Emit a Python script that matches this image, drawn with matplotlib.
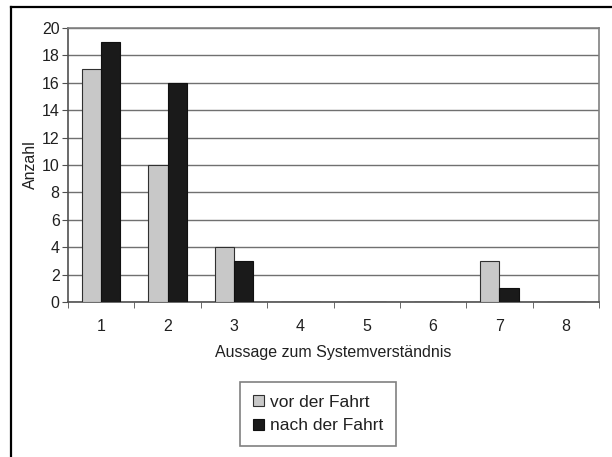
import matplotlib
matplotlib.use("Agg")
import matplotlib.pyplot as plt
import numpy as np
from matplotlib.lines import Line2D

plt.rcParams['font.family'] = ['Liberation Sans', 'DejaVu Sans']

categories = ['1', '2', '3', '4', '5', '6', '7', '8']
vor = [17, 10, 4, 0, 0, 0, 3, 0]
nach = [19, 16, 3, 0, 0, 0, 1, 0]
series_names = ['vor der Fahrt', 'nach der Fahrt']
yticks = [0, 2, 4, 6, 8, 10, 12, 14, 16, 18, 20]

W, H = 612, 457
fig = plt.figure(figsize=(W/100, H/100), dpi=100)
ax = fig.add_axes([68/W, 1-302/H, (599-68)/W, (302-28)/H])

x = np.arange(len(categories))
bw = 0.29
ax.bar(x - bw/2, vor, bw, color='#c8c8c8', edgecolor='#303030', linewidth=0.8, label=series_names[0], zorder=3)
ax.bar(x + bw/2, nach, bw, color='#1a1a1a', edgecolor='#101010', linewidth=0.8, label=series_names[1], zorder=3)

fs = 11.5
ax.set_xlim(-0.5, len(categories)-0.5)
ax.set_ylim(0, 20)
ax.set_yticks(yticks)
ax.set_yticklabels([str(v) for v in yticks], fontsize=fs, color='#202020')
ax.yaxis.grid(True, color='#707070', linewidth=1.0, zorder=0)
ax.set_axisbelow(True)

ax.set_xticks(x)
ax.set_xticklabels(categories, fontsize=fs, color='#202020')
ax.tick_params(axis='x', length=0, pad=12)
ax.set_xticks(np.arange(-0.5, len(categories)), minor=True)
ax.tick_params(axis='x', which='minor', length=4, direction='out', color='#505050')
ax.tick_params(axis='y', length=4, direction='out', color='#505050', pad=2)

for s in ['top', 'right']:
    ax.spines[s].set_color('#808080')
    ax.spines[s].set_linewidth(1.2)
for s in ['left', 'bottom']:
    ax.spines[s].set_color('#505050')
    ax.spines[s].set_linewidth(1.2)

ax.set_ylabel('Anzahl', fontsize=fs, labelpad=3, color='#202020')
ax.set_xlabel('Aussage zum Systemverständnis', fontsize=fs, labelpad=8, color='#202020')

leg = fig.legend(loc='center', bbox_to_anchor=(318/W, 1-414/H), fontsize=12.5,
                 frameon=True, fancybox=False, handlelength=0.6, handleheight=0.6,
                 handletextpad=0.35, borderpad=0.75, labelspacing=0.5, borderaxespad=0)
leg.get_frame().set_edgecolor('#606060')
leg.get_frame().set_linewidth(1.2)
for t in leg.get_texts():
    t.set_color('#202020')

fig.add_artist(Line2D([11/W, 1], [1-7/H, 1-7/H], color='black', linewidth=1.6, transform=fig.transFigure))
fig.add_artist(Line2D([11/W, 11/W], [0, 1-7/H], color='black', linewidth=1.6, transform=fig.transFigure))

fig.savefig('out.png', dpi=100)
